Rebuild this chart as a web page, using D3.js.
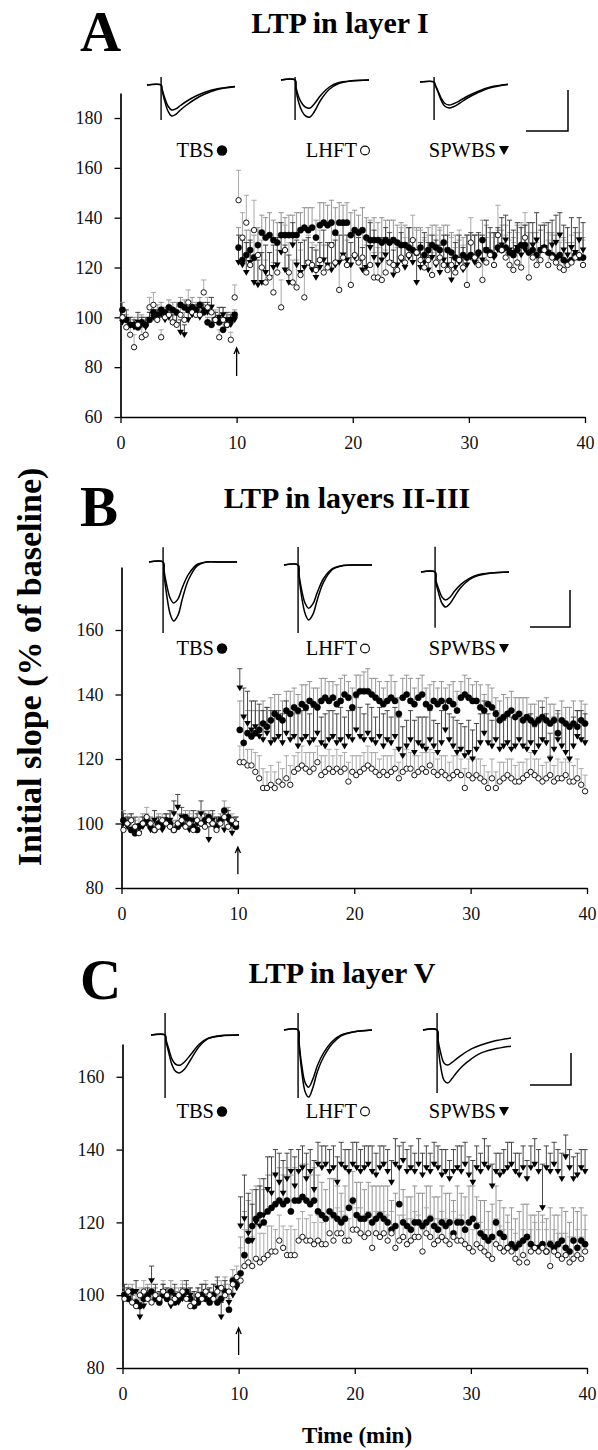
<!DOCTYPE html>
<html>
<head>
<meta charset="utf-8">
<script src="https://cdn.jsdelivr.net/npm/d3@7"></script>
<style>
body { margin: 0; background: #fff; }
svg { display: block; }
</style>
</head>
<body>
<script>
// one sample every 20 s over the 40 min recording
var sampleMin = 1 / 3;
var nPoints = 120;
var xTicks = [0, 10, 20, 30, 40];
var yTicksA = [60, 80, 100, 120, 140, 160, 180];
var yTicksBC = [80, 100, 120, 140, 160];
var seriesNames = ['TBS', 'LHFT', 'SPWBS'];

// ---- panel A : layer I ----
var aTbsBase = [103,99,97,97,96,98,97,99,102,101, 103,102,104,103,102,105,104,103,104,103, 105,102,98,97,99,98,95,97,99,101];
var aTbsPost = [128,123,125,127,124,129,134,132,133,131, 130,133,133,133,133,133,135,136,135,136,
  132,137,138,137,138,134,138,138,138,133, 135,134,135,132,131,131,131,130,131,130,
  131,130,129,129,128,127,126,128,125,127, 129,128,127,130,127,126,124,123,125,124,
  125,124,126,131,127,126,125,128,127,128, 126,125,127,129,129,126,127,125,127,128,
  126,125,124,125,123,122,123,125,124,124];
var aLhftBase = [100,96,93,88,97,92,93,104,105,99, 92,100,101,98,97,101,99,106,102,101, 101,110,104,102,99,92,99,97,91,108];
var aLhftPost = [147,132,138,121,135,125,120,114,116,110, 118,104,127,118,114,112,117,108,122,121,
  119,123,118,120,129,122,111,124,121,113, 125,122,124,118,121,116,116,115,118,122,
  121,119,124,122,125,131,126,123,120,123, 117,122,124,121,119,121,118,123,120,113,
  130,124,121,115,122,125,121,133,127,124, 121,119,122,120,132,116,124,121,123,127,
  121,124,122,120,119,121,122,124,125,121];
var aSpwBase = [98,99,97,96,98,97,96,99,100,99, 101,99,100,98,97,94,93,99,101,102, 100,103,102,104,99,100,101,99,97,99];
var aSpwPost = [122,121,118,122,114,113,114,118,116,120, 121,126,119,114,129,121,118,120,122,119,
  116,120,123,121,119,121,122,125,123,121, 124,122,119,120,128,124,121,123,125,122,
  117,121,123,120,124,122,114,120,122,119, 124,121,118,123,121,115,120,122,119,121,
  124,122,125,123,127,125,124,127,129,131, 127,126,128,125,127,126,129,131,127,128,
  126,129,130,133,127,125,128,126,131,127];
var aTbsSemBase = [3,2,3,3,2,3,2,3,3,4, 3,2,3,3,4,3,3,2,4,3, 3,3,2,3,3,2,4,3,3,2];
var aTbsSemPost = [8,9,10,8,9,7,7,8,9,8, 8,9,7,8,8,9,7,8,9,8, 7,9,8,8,9,10,8,7,8,9, 8,7,9,8,8,9,7,10,8,9,
  8,7,9,8,8,9,10,8,7,9, 8,9,8,7,10,8,9,8,7,9, 8,9,7,8,10,8,9,7,8,9, 8,7,10,9,8,8,7,9,8,10, 8,9,7,8,9,8,7,9,8,8];
var aLhftSemBase = [4,3,4,5,3,4,3,4,5,4, 3,4,3,4,5,4,3,5,4,3, 4,5,4,3,4,3,5,4,3,5];
var aLhftSemPost = [12,10,11,9,12,10,11,9,10,12, 9,11,10,12,9,11,10,12,11,9, 10,12,11,9,10,11,12,9,10,11,
  9,12,10,11,9,10,12,11,9,10, 11,9,12,10,11,10,9,12,11,10, 9,11,12,10,9,11,10,12,9,11,
  10,9,12,11,10,9,11,12,10,9, 10,11,12,9,10,11,10,9,12,11, 10,9,11,10,12,9,11,10,9,10];
var aSpwSemBase = [3,4,3,3,4,3,4,3,3,4, 3,3,4,3,4,5,4,3,4,3, 4,3,4,4,3,4,3,3,4,3];
var aSpwSemPost = [11,10,12,9,11,10,12,11,10,9, 11,12,10,11,9,10,12,11,10,9, 11,10,12,9,11,10,11,12,10,9,
  11,10,9,12,10,11,10,9,11,12, 10,9,11,10,12,9,11,10,12,11, 9,10,11,10,12,9,10,11,9,12,
  10,11,9,10,12,11,10,9,11,10, 12,9,10,11,10,12,9,11,10,9, 12,10,11,9,10,11,12,10,9,11];

// ---- panel B : layers II-III ----
var bTbsBase = [101,100,98,97,99,100,101,99,98,100, 99,101,100,98,99,100,102,101,99,98, 100,101,102,100,99,101,104,102,100,99];
var bTbsPost = [129,125,128,127,128,129,131,130,132,134, 133,132,135,134,136,135,137,136,138,137,
  136,138,139,138,139,137,138,140,139,136, 140,141,141,141,140,139,138,137,138,139,
  138,134,139,140,138,137,139,140,137,136, 138,137,138,136,138,137,135,139,140,139,
  138,138,136,135,137,136,134,132,133,134, 135,133,134,132,133,132,131,132,133,132,
  131,132,128,132,131,130,131,130,132,131];
var bLhftBase = [98,100,101,99,97,100,102,100,98,99, 101,100,99,98,100,101,99,100,98,101, 100,99,101,100,98,100,102,99,101,100];
var bLhftPost = [119,119,118,118,116,114,111,111,112,111, 113,112,114,112,116,117,118,117,116,117,
  119,115,116,117,116,117,116,117,113,116, 115,116,117,118,117,116,115,116,115,116,
  117,114,116,117,117,115,116,117,116,118, 116,115,116,115,114,115,116,115,111,115,
  114,115,114,113,111,114,111,113,114,115, 114,113,113,114,115,116,115,114,113,114,
  115,113,114,114,115,113,113,114,112,110];
var bSpwBase = [100,99,101,98,97,99,100,98,101,99, 98,100,101,103,105,102,99,98,101,100, 103,100,95,101,99,100,98,101,97,100];
var bSpwPost = [142,133,131,129,130,127,126,128,125,126, 127,125,128,126,127,124,126,127,125,126,
  128,125,124,126,127,125,126,124,127,126, 129,127,126,128,126,125,127,124,126,125,
  127,123,121,124,126,122,125,124,123,126, 124,122,125,129,126,124,122,123,121,122,
  120,123,125,128,125,124,126,123,124,125, 123,124,126,124,123,125,122,124,126,125,
  120,123,126,124,122,120,124,127,126,125];
var bTbsSemBase = [3,2,3,2,3,3,2,3,2,3, 3,2,3,3,2,3,2,3,3,2, 3,3,2,3,3,2,3,3,2,3];
var bTbsSemPost = [9,8,7,8,7,6,7,6,7,6, 7,6,6,7,6,5,6,7,6,5, 6,7,6,6,5,6,7,6,5,6, 6,5,6,7,5,6,6,5,6,7,
  6,5,6,6,7,5,6,6,5,7, 6,5,6,6,5,7,6,5,6,6, 5,6,7,5,6,6,5,6,7,5, 6,6,5,7,6,5,6,6,5,7, 6,5,6,6,5,6,7,5,6,6];
var bLhftSemBase = [2,3,2,2,3,2,3,2,2,3, 2,3,2,2,3,2,2,3,2,3, 2,2,3,2,3,2,2,3,2,2];
var bLhftSemPost = [5,6,5,5,6,7,6,5,6,5, 6,5,7,6,5,5,6,5,6,5, 5,6,5,6,5,6,5,5,6,5, 6,5,5,6,5,6,5,5,6,5,
  6,5,5,6,5,6,5,5,6,5, 6,5,5,6,5,6,5,5,6,5, 6,5,6,5,5,6,5,6,5,5, 6,5,6,5,5,6,5,6,5,5, 6,5,6,5,5,6,5,6,5,5];
var bSpwSemBase = [3,3,2,4,3,3,2,3,3,3, 2,3,3,4,4,3,3,2,3,3, 4,3,4,3,3,2,3,3,3,2];
var bSpwSemPost = [6,9,10,9,8,10,9,8,10,9, 8,9,10,8,9,10,9,8,9,10, 9,8,10,9,8,9,10,9,8,9, 10,9,8,9,10,8,9,10,9,8,
  9,10,9,8,9,10,8,9,10,9, 8,9,10,9,8,9,10,8,9,10, 9,8,9,10,9,8,9,10,8,9, 10,9,8,9,10,9,8,9,10,9, 8,10,9,8,9,10,9,8,9,9];

// ---- panel C : layer V ----
var cTbsBase = [100,99,101,98,97,99,100,101,99,98, 100,99,101,98,99,100,101,99,97,98, 100,99,98,100,98,99,101,96,104,103];
var cTbsPost = [106,111,115,119,121,122,120,123,124,125, 126,125,126,123,126,126,127,126,125,126,
  123,122,121,123,122,121,120,121,124,126, 122,121,121,122,120,121,122,121,120,118,
  119,125,120,119,118,120,120,119,120,121, 119,118,120,119,120,117,120,120,118,120,
  121,119,117,116,115,116,120,117,116,113, 114,113,114,115,116,114,113,113,114,112,
  114,113,114,115,113,112,115,113,115,114];
var cLhftBase = [99,101,98,97,100,101,99,98,100,99, 101,100,98,99,100,101,99,97,98,100, 99,101,100,99,101,102,100,101,103,105];
var cLhftPost = [104,108,109,108,110,109,110,111,112,112, 115,113,111,111,111,115,116,115,115,114,
  115,114,114,117,115,117,117,115,115,118, 118,117,116,117,113,117,116,117,115,117,
  113,115,116,114,115,116,116,112,117,116, 114,115,116,115,114,116,115,115,114,113,
  112,114,113,112,111,110,114,113,112,113, 112,110,109,111,109,112,113,112,113,112,
  108,112,111,110,111,109,110,111,110,112];
var cSpwBase = [100,99,98,101,94,97,99,104,100,98, 101,99,97,100,98,99,101,100,98,99, 100,101,99,100,102,94,101,98,100,102];
var cSpwPost = [119,121,117,115,120,119,122,129,128,133, 131,128,132,134,130,134,135,132,134,129,
  136,135,136,134,135,131,136,135,134,136, 135,134,135,136,134,133,135,136,134,131,
  136,135,137,134,135,134,136,133,135,134, 136,135,133,134,132,134,135,134,136,133,
  131,135,134,136,135,130,134,133,134,135, 136,134,133,135,132,135,136,134,124,135,
  134,136,134,132,138,135,132,133,135,134];
var cTbsSemBase = [2,3,2,3,2,3,3,2,3,2, 3,2,3,3,2,3,2,3,3,2, 3,2,3,3,2,3,4,3,3,2];
var cTbsSemPost = [10,12,11,10,9,10,9,10,9,8, 9,8,9,10,9,8,9,10,8,9, 10,9,8,9,10,9,8,9,10,8, 9,10,8,9,10,9,8,9,10,8,
  9,10,9,8,9,10,8,9,10,9, 8,9,10,9,8,9,10,8,9,10, 9,8,9,10,8,9,10,9,8,9, 10,8,9,10,9,8,9,10,8,9, 10,9,8,9,10,8,9,10,9,8];
var cLhftSemBase = [2,2,3,2,2,3,2,3,2,2, 3,2,2,3,2,3,2,2,3,2, 2,3,2,2,3,2,3,2,2,3];
var cLhftSemPost = [9,10,9,8,9,8,7,8,7,6, 7,6,7,8,7,6,7,6,7,6, 7,6,7,6,6,7,6,7,6,7, 6,7,6,6,7,6,7,6,7,6,
  6,7,6,7,6,7,6,6,7,6, 7,6,7,6,6,7,6,7,6,7, 6,6,7,6,7,6,7,6,6,7, 6,7,6,7,6,6,7,6,7,6, 7,6,6,7,6,7,6,7,6,6];
var cSpwSemBase = [3,3,2,3,4,3,3,4,3,3, 2,3,3,3,2,3,3,2,3,3, 3,2,3,3,3,4,3,3,3,3];
var cSpwSemPost = [8,12,11,10,9,11,10,9,10,7, 8,9,7,6,8,6,6,7,6,8, 6,6,5,6,6,7,6,5,6,6, 7,6,6,5,7,6,6,5,6,6,
  7,6,5,6,6,5,7,6,6,5, 6,6,7,6,5,6,6,7,6,5, 6,6,5,7,6,6,5,6,6,7, 6,5,6,6,5,6,7,6,12,6, 5,6,6,7,6,5,6,6,5,6];

// ---- example sweeps (ms, mV) before / after induction ----
var traceMs = [0, 1.6, 1.7, 2.0, 2.4, 2.8, 3.3, 3.8, 4.5, 5.5, 6.5, 8, 10];
var aTbsPre  = [0,0,-0.15,-0.5,-0.85,-1.0,-0.95,-0.82,-0.65,-0.45,-0.3,-0.15,-0.06];
var aTbsAft  = [0,0,-0.19,-0.62,-1.05,-1.24,-1.17,-1.0,-0.8,-0.56,-0.37,-0.18,-0.07];
var aLhftPre = [0,0,-0.28,-0.67,-0.95,-1.09,-1.12,-0.95,-0.62,-0.28,-0.11,-0.03,0];
var aLhftAft = [0,0,-0.37,-0.89,-1.26,-1.44,-1.48,-1.26,-0.81,-0.37,-0.15,-0.04,0];
var aSpwPre  = [0,0,-0.09,-0.32,-0.64,-0.85,-0.92,-0.87,-0.75,-0.55,-0.39,-0.2,-0.09];
var aSpwAft  = [0,0,-0.1,-0.36,-0.73,-0.96,-1.04,-0.99,-0.85,-0.62,-0.44,-0.23,-0.1];
var bTbsPre  = [0,0,-0.18,-0.5,-0.8,-0.91,-0.82,-0.56,-0.27,-0.05,0,0,0];
var bTbsAft  = [0,0,-0.26,-0.72,-1.15,-1.31,-1.18,-0.81,-0.39,-0.08,0,0,0];
var bLhftPre = [0,0,-0.2,-0.55,-0.85,-0.96,-0.86,-0.6,-0.3,-0.08,-0.02,0,0];
var bLhftAft = [0,0,-0.25,-0.7,-1.08,-1.22,-1.09,-0.76,-0.38,-0.1,-0.02,0,0];
var bSpwPre  = [0,0,-0.19,-0.37,-0.56,-0.62,-0.56,-0.43,-0.28,-0.14,-0.06,-0.02,0];
var bSpwAft  = [0,0,-0.23,-0.47,-0.7,-0.78,-0.7,-0.55,-0.35,-0.17,-0.08,-0.02,0];
var cTbsPre  = [0,0,-0.1,-0.3,-0.54,-0.65,-0.67,-0.6,-0.44,-0.2,-0.07,-0.01,0];
var cTbsAft  = [0,0,-0.13,-0.38,-0.67,-0.81,-0.84,-0.76,-0.55,-0.25,-0.08,-0.02,0];
var cLhftPre = [0,0,-0.25,-0.76,-1.17,-1.27,-1.08,-0.79,-0.51,-0.25,-0.11,-0.04,0];
var cLhftAft = [0,0,-0.3,-0.89,-1.37,-1.49,-1.27,-0.92,-0.6,-0.3,-0.13,-0.04,0];
var cSpwPre  = [0,0,-0.2,-0.5,-0.74,-0.78,-0.72,-0.64,-0.54,-0.42,-0.34,-0.25,-0.18];
var cSpwAft  = [0,0,-0.3,-0.8,-1.12,-1.18,-1.08,-0.95,-0.8,-0.64,-0.52,-0.43,-0.36];
// stimulus artefact extent [top, bottom] in mV
var aArtefacts = [[0.32,-1.4],[0.12,-1.6],[0.2,-1.52]];
var bArtefacts = [[0.33,-1.58],[0.4,-1.51],[0.56,-1.24]];
var cArtefacts = [[0.49,-1.4],[0.38,-1.51],[0.38,-1.4]];

var FONT = '"Liberation Serif", "Times New Roman", Times, serif';
var times = d3.range(nPoints).map(function(i){ return (i + 0.5) * sampleMin; });

function buildSeries(base, post, semBase, semPost){
  var vals = base.concat(post);
  var sems = semBase.concat(semPost);
  return vals.map(function(v, i){ return {t: times[i], v: v, sem: sems[i] || 0}; });
}

var panels = [
  {letter: 'A', title: 'LTP in layer I', titleX: 340, titleY: 33, letterY: 51,
   left: 120.5, right: 585, top: 93.1, bottom: 417, yDomain: [60, 190], yTicks: yTicksA,
   legendY: 157, arrow: [76.5, 87.7],
   traceX: [147, 281, 420], traceY: [85, 80, 82], mvPx: 25,
   bar: {x0: 526, x1: 568, y0: 90, y1: 131},
   series: [buildSeries(aTbsBase, aTbsPost, aTbsSemBase, aTbsSemPost),
            buildSeries(aLhftBase, aLhftPost, aLhftSemBase, aLhftSemPost),
            buildSeries(aSpwBase, aSpwPost, aSpwSemBase, aSpwSemPost)],
   traces: [[aTbsPre, aTbsAft], [aLhftPre, aLhftAft], [aSpwPre, aSpwAft]], artefacts: aArtefacts},
  {letter: 'B', title: 'LTP in layers II-III', titleX: 347, titleY: 508, letterY: 526,
   left: 121.5, right: 587, top: 567.1, bottom: 888, yDomain: [80, 179.5], yTicks: yTicksBC,
   legendY: 655, arrow: [84.3, 92.7],
   traceX: [149, 284, 421], traceY: [562, 565, 572], mvPx: 45,
   bar: {x0: 530, x1: 570, y0: 590, y1: 627},
   series: [buildSeries(bTbsBase, bTbsPost, bTbsSemBase, bTbsSemPost),
            buildSeries(bLhftBase, bLhftPost, bLhftSemBase, bLhftSemPost),
            buildSeries(bSpwBase, bSpwPost, bSpwSemBase, bSpwSemPost)],
   traces: [[bTbsPre, bTbsAft], [bLhftPre, bLhftAft], [bSpwPre, bSpwAft]], artefacts: bArtefacts},
  {letter: 'C', title: 'LTP in layer V', titleX: 342, titleY: 983, letterY: 999,
   left: 122.5, right: 587, top: 1044, bottom: 1368, yDomain: [80, 169], yTicks: yTicksBC,
   legendY: 1118, arrow: [83.6, 91],
   traceX: [151, 284, 423], traceY: [1035, 1030, 1030], mvPx: 45,
   bar: {x0: 530, x1: 571, y0: 1053, y1: 1085},
   series: [buildSeries(cTbsBase, cTbsPost, cTbsSemBase, cTbsSemPost),
            buildSeries(cLhftBase, cLhftPost, cLhftSemBase, cLhftSemPost),
            buildSeries(cSpwBase, cSpwPost, cSpwSemBase, cSpwSemPost)],
   traces: [[cTbsPre, cTbsAft], [cLhftPre, cLhftAft], [cSpwPre, cSpwAft]], artefacts: cArtefacts}
];

var svg = d3.select('body').append('svg')
            .attr('width', 598)
            .attr('height', 1450);

var barColors = ['#8a8a8a', '#a0a0a0', '#333'];
var legendSymX = [222, 365, 504];
var triPath = 'M-3.4,-2.5L3.4,-2.5L0,3.3Z';

panels.forEach(function(p){
  var x = d3.scaleLinear().domain([0, 40]).range([p.left, p.right]);
  var y = d3.scaleLinear().domain(p.yDomain).range([p.bottom, p.top]);
  var g = svg.append('g');

  // panel letter + title
  g.append('text').attr('x', 80).attr('y', p.letterY).text(p.letter)
   .attr('font-family', FONT).attr('font-weight', 'bold').attr('font-size', 57);
  g.append('text').attr('x', p.titleX).attr('y', p.titleY).text(p.title)
   .attr('text-anchor', 'middle')
   .attr('font-family', FONT).attr('font-weight', 'bold').attr('font-size', 30);

  // axes
  var xAxis = g.append('g').attr('transform', 'translate(0,' + p.bottom + ')')
     .call(d3.axisBottom(x).tickValues(xTicks).tickSize(6).tickSizeOuter(0).tickPadding(13));
  var yAxis = g.append('g').attr('transform', 'translate(' + p.left + ',0)')
     .call(d3.axisLeft(y).tickValues(p.yTicks).tickSize(6).tickSizeOuter(0).tickPadding(12));
  [xAxis, yAxis].forEach(function(a){
    a.attr('font-family', FONT).attr('font-size', 18);
    a.select('.domain').attr('stroke-width', 1.7);
    a.selectAll('.tick line').attr('stroke-width', 1.3);
    a.selectAll('.tick text').attr('fill', '#111');
  });

  // error bars (upward SEM)
  p.series.forEach(function(s, k){
    var eb = g.append('g').attr('stroke', barColors[k]).attr('stroke-width', 0.9).attr('fill', 'none');
    eb.selectAll('path').data(s).enter().append('path')
      .attr('d', function(d){
        var cx = x(d.t), y0 = y(d.v), y1 = y(d.v + d.sem);
        return 'M' + cx + ',' + y0 + 'V' + y1 + 'M' + (cx - 2.6) + ',' + y1 + 'H' + (cx + 2.6);
      });
  });

  // markers: TBS filled circles, SPWBS filled triangles, LHFT open circles on top
  [0, 2, 1].forEach(function(k){
    var s = p.series[k];
    var mg = g.append('g');
    if (k == 2){
      mg.selectAll('path').data(s).enter().append('path')
        .attr('d', triPath).attr('fill', '#000')
        .attr('transform', function(d){ return 'translate(' + x(d.t) + ',' + y(d.v) + ')'; });
    } else {
      mg.selectAll('circle').data(s).enter().append('circle')
        .attr('cx', function(d){ return x(d.t); })
        .attr('cy', function(d){ return y(d.v); })
        .attr('r', k == 0 ? 3.1 : 2.7)
        .attr('fill', k == 0 ? '#000' : '#fff')
        .attr('stroke', '#000')
        .attr('stroke-width', k == 0 ? 0.5 : 0.9);
    }
  });

  // induction arrow at 10 min
  var ax = x(10), ay0 = y(p.arrow[0]), ay1 = y(p.arrow[1]);
  g.append('path')
   .attr('d', 'M' + ax + ',' + ay0 + 'V' + ay1 + 'M' + (ax - 2.6) + ',' + (ay1 + 6) + 'L' + ax + ',' + ay1 + 'L' + (ax + 2.6) + ',' + (ay1 + 6))
   .attr('stroke', '#000').attr('stroke-width', 1.3).attr('fill', 'none');

  // sample sweeps
  p.traces.forEach(function(pair, k){
    var tx = d3.scaleLinear().domain([0, 10]).range([p.traceX[k], p.traceX[k] + 88]);
    var ty = d3.scaleLinear().domain([0, -1]).range([p.traceY[k], p.traceY[k] + p.mvPx]);
    var line = d3.line()
      .x(function(d, i){ return tx(traceMs[i]); })
      .y(function(d){ return ty(d); })
      .curve(d3.curveCatmullRom.alpha(0.5));
    pair.forEach(function(vals){
      g.append('path').datum(vals).attr('d', line)
       .attr('fill', 'none').attr('stroke', '#000').attr('stroke-width', 1.5);
    });
    var art = p.artefacts[k];
    g.append('line')
     .attr('x1', tx(traceMs[1])).attr('x2', tx(traceMs[1]))
     .attr('y1', ty(art[0])).attr('y2', ty(art[1]))
     .attr('stroke', '#000').attr('stroke-width', 1.4);
  });

  // calibration bar
  g.append('path')
   .attr('d', 'M' + p.bar.x1 + ',' + p.bar.y0 + 'V' + p.bar.y1 + 'H' + p.bar.x0)
   .attr('fill', 'none').attr('stroke', '#000').attr('stroke-width', 1.5);

  // legend
  seriesNames.forEach(function(name, k){
    var sx = legendSymX[k];
    g.append('text').attr('x', sx - 8).attr('y', p.legendY).text(name)
     .attr('text-anchor', 'end')
     .attr('font-family', FONT).attr('font-size', 20.5);
    var cy = p.legendY - 6.5;
    if (k == 0){
      g.append('circle').attr('cx', sx).attr('cy', cy).attr('r', 5.2).attr('fill', '#000');
    } else if (k == 1){
      g.append('circle').attr('cx', sx).attr('cy', cy).attr('r', 4.4)
       .attr('fill', '#fff').attr('stroke', '#000').attr('stroke-width', 1.1);
    } else {
      g.append('path').attr('d', 'M-5,-4.5L5,-4.5L0,4.5Z')
       .attr('transform', 'translate(' + sx + ',' + cy + ')').attr('fill', '#000');
    }
  });
});

// shared axis titles
svg.append('text')
   .attr('transform', 'translate(41,667) rotate(-90)')
   .attr('text-anchor', 'middle')
   .attr('font-family', FONT).attr('font-weight', 'bold').attr('font-size', 34)
   .text('Initial slope (% of baseline)');
svg.append('text')
   .attr('x', 357).attr('y', 1443)
   .attr('text-anchor', 'middle')
   .attr('font-family', FONT).attr('font-weight', 'bold').attr('font-size', 23)
   .text('Time (min)');
</script>
</body>
</html>
